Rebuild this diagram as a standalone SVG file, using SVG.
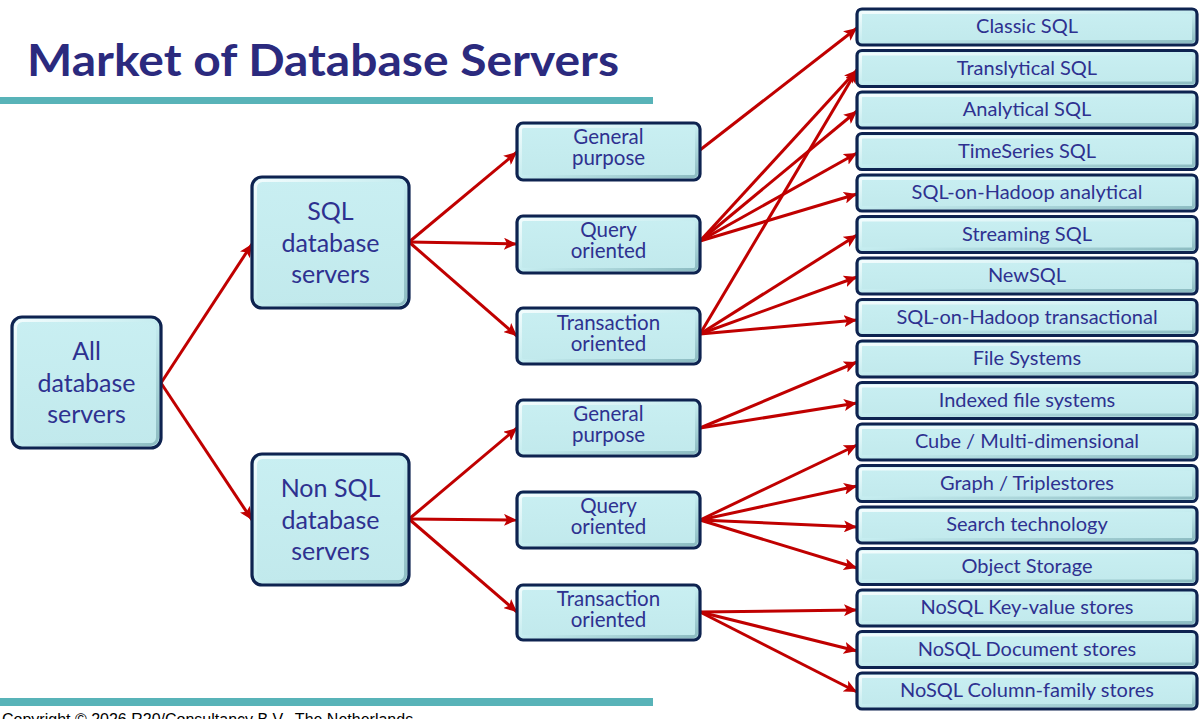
<svg xmlns="http://www.w3.org/2000/svg" width="1201" height="719" viewBox="0 0 1201 719">
<style>
.box{fill:url(#fillg);stroke:#0E2350;stroke-width:3.2}
.bev{fill:none;stroke:url(#bevg);stroke-width:3}
.t{font-family:Lato,"Open Sans",sans-serif;fill:#2E3190;text-anchor:middle}
.t2{font-size:25px}
.t3{font-size:20.5px}
.t4{font-size:20px}
.c line{stroke:#C00000;stroke-width:3;marker-end:url(#ah)}
.bar{fill:#58B3B8}
</style>
<defs>
<linearGradient id="fillg" x1="0" y1="0" x2="0" y2="1">
<stop offset="0" stop-color="#C9EFF2"/>
<stop offset="1" stop-color="#C1E9EC"/>
</linearGradient>
<linearGradient id="bevg" x1="0" y1="0" x2="1" y2="1">
<stop offset="0" stop-color="#F2FCFD"/>
<stop offset="0.5" stop-color="#C6EDF0"/>
<stop offset="1" stop-color="#8DBCC2"/>
</linearGradient>
<marker id="ah" markerUnits="userSpaceOnUse" markerWidth="14" markerHeight="12" refX="13" refY="6" orient="auto">
<path d="M0,0 L13,6 L0,12 L3,6 Z" fill="#C00000"/>
</marker>
</defs>

<text x="27" y="76" font-family="Lato,'Open Sans',sans-serif" font-weight="bold" font-size="44" fill="#2B2A7E" textLength="592" lengthAdjust="spacingAndGlyphs">Market of Database Servers</text>
<rect class="bar" x="0" y="97" width="653" height="7"/>
<rect class="bar" x="0" y="698" width="653" height="8"/>
<text x="2" y="725" font-family="'Liberation Sans',Arial,sans-serif" font-size="16" fill="#000">Copyright © 2026 R20/Consultancy B.V., The Netherlands</text>

<g class="c" id="connectors">
<line x1="161" y1="383" x2="252" y2="244"/>
<line x1="161" y1="383" x2="252" y2="520"/>
<line x1="409" y1="242" x2="517" y2="152"/>
<line x1="409" y1="242" x2="517" y2="244"/>
<line x1="409" y1="242" x2="517" y2="336"/>
<line x1="409" y1="519" x2="517" y2="428"/>
<line x1="409" y1="519" x2="517" y2="520"/>
<line x1="409" y1="519" x2="517" y2="612"/>
<line x1="700" y1="150" x2="857" y2="28"/>
<line x1="700" y1="241" x2="857" y2="70"/>
<line x1="700" y1="241" x2="857" y2="111"/>
<line x1="700" y1="241" x2="857" y2="153"/>
<line x1="700" y1="241" x2="857" y2="194"/>
<line x1="700" y1="334" x2="857" y2="70"/>
<line x1="700" y1="334" x2="857" y2="235"/>
<line x1="700" y1="334" x2="857" y2="277"/>
<line x1="700" y1="334" x2="857" y2="320"/>
<line x1="700" y1="428" x2="857" y2="362"/>
<line x1="700" y1="428" x2="857" y2="403"/>
<line x1="700" y1="520" x2="857" y2="445"/>
<line x1="700" y1="520" x2="857" y2="486"/>
<line x1="700" y1="520" x2="857" y2="527"/>
<line x1="700" y1="520" x2="857" y2="568"/>
<line x1="700" y1="612" x2="857" y2="610"/>
<line x1="700" y1="612" x2="857" y2="651"/>
<line x1="700" y1="612" x2="857" y2="692"/>
</g>

<g id="all"><rect class="box" x="12" y="317" width="149" height="131" rx="10"/><rect class="bev" x="15.5" y="320.5" width="142" height="124" rx="7"/>
<text class="t t2" x="86.5" y="360">All</text><text class="t t2" x="86.5" y="392">database</text><text class="t t2" x="86.5" y="423">servers</text></g>

<g id="sql"><rect class="box" x="252" y="177" width="157" height="131" rx="10"/><rect class="bev" x="255.5" y="180.5" width="150" height="124" rx="7"/>
<text class="t t2" x="330.5" y="220">SQL</text><text class="t t2" x="330.5" y="252">database</text><text class="t t2" x="330.5" y="283">servers</text></g>

<g id="nonsql"><rect class="box" x="252" y="454" width="157" height="131" rx="10"/><rect class="bev" x="255.5" y="457.5" width="150" height="124" rx="7"/>
<text class="t t2" x="330.5" y="497">Non SQL</text><text class="t t2" x="330.5" y="529">database</text><text class="t t2" x="330.5" y="560">servers</text></g>

<g id="sql-gp"><rect class="box" x="517" y="123" width="183" height="57" rx="6"/><rect class="bev" x="520.5" y="126.5" width="176" height="50" rx="3"/>
<text class="t t3" x="608.5" y="144">General</text><text class="t t3" x="608.5" y="165">purpose</text></g>
<g id="sql-qo"><rect class="box" x="517" y="216" width="183" height="57" rx="6"/><rect class="bev" x="520.5" y="219.5" width="176" height="50" rx="3"/>
<text class="t t3" x="608.5" y="237">Query</text><text class="t t3" x="608.5" y="258">oriented</text></g>
<g id="sql-to"><rect class="box" x="517" y="308" width="183" height="56" rx="6"/><rect class="bev" x="520.5" y="311.5" width="176" height="49" rx="3"/>
<text class="t t3" x="608.5" y="330">Transaction</text><text class="t t3" x="608.5" y="351">oriented</text></g>
<g id="nsql-gp"><rect class="box" x="517" y="400" width="183" height="56" rx="6"/><rect class="bev" x="520.5" y="403.5" width="176" height="49" rx="3"/>
<text class="t t3" x="608.5" y="421">General</text><text class="t t3" x="608.5" y="442">purpose</text></g>
<g id="nsql-qo"><rect class="box" x="517" y="492" width="183" height="56" rx="6"/><rect class="bev" x="520.5" y="495.5" width="176" height="49" rx="3"/>
<text class="t t3" x="608.5" y="513">Query</text><text class="t t3" x="608.5" y="534">oriented</text></g>
<g id="nsql-to"><rect class="box" x="517" y="585" width="183" height="55" rx="6"/><rect class="bev" x="520.5" y="588.5" width="176" height="48" rx="3"/>
<text class="t t3" x="608.5" y="606">Transaction</text><text class="t t3" x="608.5" y="627">oriented</text></g>

<g id="l4-0"><rect class="box" x="857" y="9" width="340" height="36" rx="5"/><rect class="bev" x="860.5" y="12.5" width="333" height="29" rx="2"/><text class="t t4" x="1027" y="33">Classic SQL</text></g>
<g id="l4-1"><rect class="box" x="857" y="50.5" width="340" height="36" rx="5"/><rect class="bev" x="860.5" y="54" width="333" height="29" rx="2"/><text class="t t4" x="1027" y="74.5">Translytical SQL</text></g>
<g id="l4-2"><rect class="box" x="857" y="92" width="340" height="36" rx="5"/><rect class="bev" x="860.5" y="95.5" width="333" height="29" rx="2"/><text class="t t4" x="1027" y="116">Analytical SQL</text></g>
<g id="l4-3"><rect class="box" x="857" y="133.5" width="340" height="36" rx="5"/><rect class="bev" x="860.5" y="137" width="333" height="29" rx="2"/><text class="t t4" x="1027" y="157.5">TimeSeries SQL</text></g>
<g id="l4-4"><rect class="box" x="857" y="175" width="340" height="36" rx="5"/><rect class="bev" x="860.5" y="178.5" width="333" height="29" rx="2"/><text class="t t4" x="1027" y="199">SQL-on-Hadoop analytical</text></g>
<g id="l4-5"><rect class="box" x="857" y="216.5" width="340" height="36" rx="5"/><rect class="bev" x="860.5" y="220" width="333" height="29" rx="2"/><text class="t t4" x="1027" y="240.5">Streaming SQL</text></g>
<g id="l4-6"><rect class="box" x="857" y="258" width="340" height="36" rx="5"/><rect class="bev" x="860.5" y="261.5" width="333" height="29" rx="2"/><text class="t t4" x="1027" y="282">NewSQL</text></g>
<g id="l4-7"><rect class="box" x="857" y="299.5" width="340" height="36" rx="5"/><rect class="bev" x="860.5" y="303" width="333" height="29" rx="2"/><text class="t t4" x="1027" y="323.5">SQL-on-Hadoop transactional</text></g>
<g id="l4-8"><rect class="box" x="857" y="341" width="340" height="36" rx="5"/><rect class="bev" x="860.5" y="344.5" width="333" height="29" rx="2"/><text class="t t4" x="1027" y="365">File Systems</text></g>
<g id="l4-9"><rect class="box" x="857" y="382.5" width="340" height="36" rx="5"/><rect class="bev" x="860.5" y="386" width="333" height="29" rx="2"/><text class="t t4" x="1027" y="406.5">Indexed file systems</text></g>
<g id="l4-10"><rect class="box" x="857" y="424" width="340" height="36" rx="5"/><rect class="bev" x="860.5" y="427.5" width="333" height="29" rx="2"/><text class="t t4" x="1027" y="448">Cube / Multi-dimensional</text></g>
<g id="l4-11"><rect class="box" x="857" y="465.5" width="340" height="36" rx="5"/><rect class="bev" x="860.5" y="469" width="333" height="29" rx="2"/><text class="t t4" x="1027" y="489.5">Graph / Triplestores</text></g>
<g id="l4-12"><rect class="box" x="857" y="507" width="340" height="36" rx="5"/><rect class="bev" x="860.5" y="510.5" width="333" height="29" rx="2"/><text class="t t4" x="1027" y="531">Search technology</text></g>
<g id="l4-13"><rect class="box" x="857" y="548.5" width="340" height="36" rx="5"/><rect class="bev" x="860.5" y="552" width="333" height="29" rx="2"/><text class="t t4" x="1027" y="572.5">Object Storage</text></g>
<g id="l4-14"><rect class="box" x="857" y="590" width="340" height="36" rx="5"/><rect class="bev" x="860.5" y="593.5" width="333" height="29" rx="2"/><text class="t t4" x="1027" y="614">NoSQL Key-value stores</text></g>
<g id="l4-15"><rect class="box" x="857" y="631.5" width="340" height="36" rx="5"/><rect class="bev" x="860.5" y="635" width="333" height="29" rx="2"/><text class="t t4" x="1027" y="655.5">NoSQL Document stores</text></g>
<g id="l4-16"><rect class="box" x="857" y="673" width="340" height="36" rx="5"/><rect class="bev" x="860.5" y="676.5" width="333" height="29" rx="2"/><text class="t t4" x="1027" y="697">NoSQL Column-family stores</text></g>
</svg>
